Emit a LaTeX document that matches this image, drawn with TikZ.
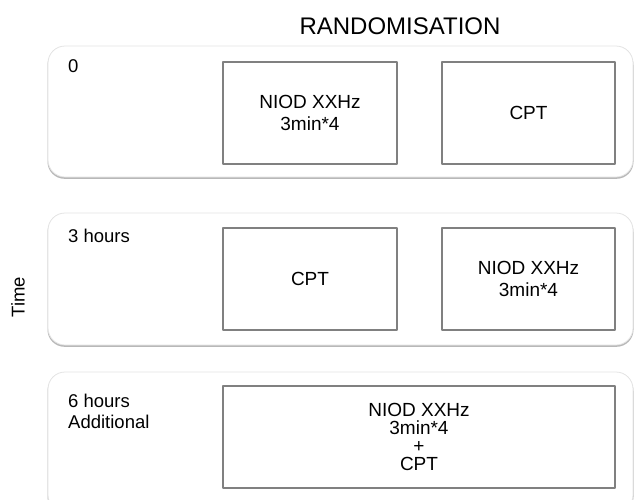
\documentclass[tikz,border=0pt]{standalone}
\usepackage{fontspec}
\setmainfont{Liberation Sans}
\usetikzlibrary{positioning}
\definecolor{dfdfdf}{rgb}{0.89,0.89,0.89}
\definecolor{aaaaaa}{rgb}{0.72,0.72,0.72}
\definecolor{zzzzzz}{rgb}{0.5,0.5,0.5}

\begin{document}
\begin{tikzpicture}[line cap=round,line join=round,x=1pt,y=-1pt,
    panel/.style={draw=dfdfdf,fill=white,line width=0.8pt,rounded corners=17pt},
    shade/.style={fill=aaaaaa,rounded corners=17pt},
    arm/.style={draw=zzzzzz,line width=1.1pt,inner sep=0pt,align=center,minimum height=102pt,font=\fontsize{19}{22.5}\selectfont},
    lab/.style={anchor=base west,inner sep=0pt,align=left,font=\fontsize{18.5}{21}\selectfont}]
                    \useasboundingbox (0,0) rectangle (635,499);
                    \foreach \t/\b in {46/177,213/345,372/512}
                    {\fill[shade] (47.5,\t+2) rectangle (633.5,\b+1.8);
                    \draw[panel] (48,\t) rectangle (633,\b);}
                    \node[anchor=base,inner sep=0pt,font=\fontsize{24}{28}\selectfont] (rand) at (400,34) {RANDOMISATION};
                    \node[rotate=90,inner sep=0pt,font=\fontsize{18.5}{22}\selectfont] (time) at (18,297) {Time};
                    \node[lab] (t0) at (68,72) {0};
                    \node[lab] (t3) at (68,242) {3 hours};
                    % base of a two line node is its last line
                    \node[lab] (t6) at (68,428) {6 hours\\Additional};
                    \node[arm,minimum width=174pt] (niod0) at (310,113) {NIOD XXHz\\3min*4};
                    \node[arm,minimum width=173pt] (cpt0) at (528.5,113) {CPT};
                    \node[arm,minimum width=174pt] (cpt3) at (310,279) {CPT};
                    \node[arm,minimum width=173pt] (niod3) at (528.5,279) {NIOD XXHz\\3min*4};
                    \node[arm,minimum width=392pt,font=\fontsize{19}{18}\selectfont] (both6) at (419,437) {NIOD XXHz\\3min*4\\+\\CPT};
                \end{tikzpicture}
\end{document}
